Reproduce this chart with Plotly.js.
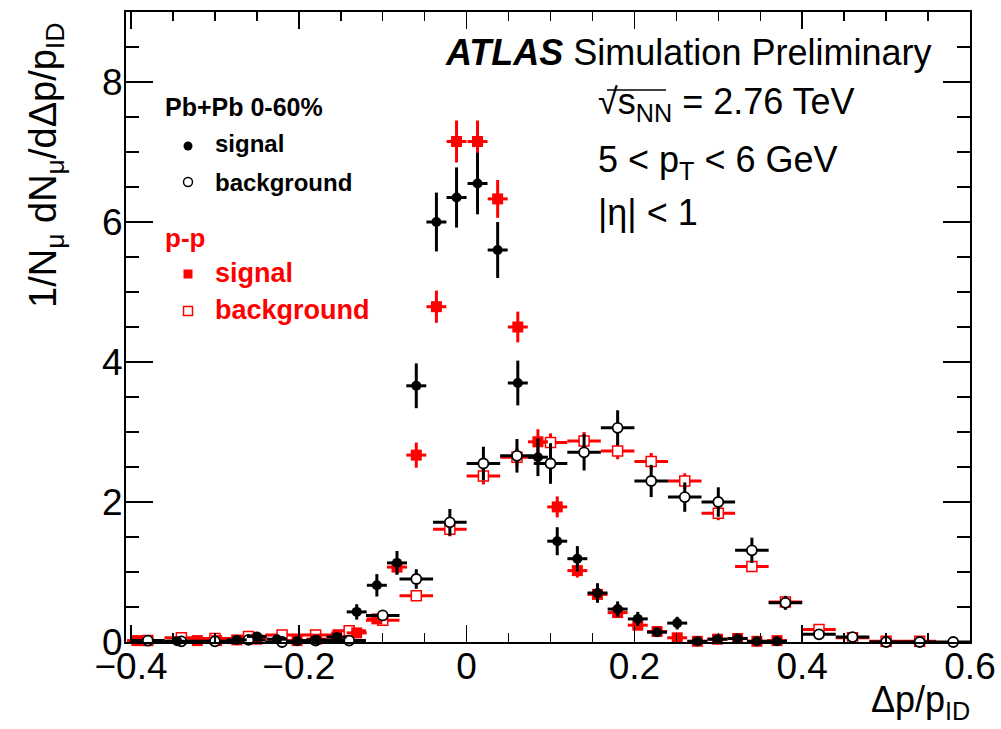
<!DOCTYPE html>
<html>
<head>
<meta charset="utf-8">
<script src="https://cdn.plot.ly/plotly-3.0.1.min.js"></script>
<style>
  html, body { margin: 0; padding: 0; background: #fff; }
  #chart { width: 1001px; height: 729px; }
</style>
</head>
<body>
<div id="chart"></div>
<script>
// Bin centres of the narrow (signal) histograms, delta p / p_ID
const sigX = [-0.393, -0.369, -0.345, -0.321, -0.298, -0.274, -0.250, -0.226, -0.202, -0.179,
              -0.155, -0.131, -0.107, -0.083, -0.060, -0.036, -0.012, 0.013, 0.037, 0.061,
              0.085, 0.108, 0.132, 0.156, 0.180, 0.204, 0.227, 0.251, 0.275, 0.299,
              0.323, 0.346, 0.370];
const sigHalfWidth = 0.0119;

// Pb+Pb 0-60% signal
const pbpbSig = [null, null, 0.01, null, null, 0.03, 0.08, 0.04, 0.01, 0.03,
                 0.07, 0.43, 0.81, 1.13, 3.66, 6.00, 6.35, 6.55, 5.60, 3.70,
                 2.64, 1.44, 1.19, 0.70, 0.47, 0.33, 0.14, 0.27, 0.01, 0.04,
                 0.05, 0.01, 0.01];
const pbpbSigErr = [0, 0, 0.02, 0, 0, 0.03, 0.04, 0.03, 0.02, 0.03,
                    0.04, 0.11, 0.16, 0.17, 0.32, 0.42, 0.43, 0.44, 0.40, 0.32,
                    0.27, 0.20, 0.18, 0.14, 0.11, 0.10, 0.06, 0.09, 0.02, 0.03,
                    0.03, 0.02, 0.02];

// p-p signal
const ppSig = [0.02, null, null, 0.02, 0.02, 0.03, 0.04, null, 0.02, 0.04,
               0.07, 0.13, 0.33, 1.07, 2.67, 4.79, 7.15, 7.15, 6.33, 4.50,
               2.86, 1.93, 1.02, 0.68, 0.42, 0.24, 0.15, 0.06, 0.01, 0.04,
               0.05, 0.01, 0.02];
const ppSigErr = [0.02, 0, 0, 0.02, 0.02, 0.02, 0.02, 0, 0.02, 0.02,
                  0.03, 0.04, 0.06, 0.10, 0.18, 0.23, 0.30, 0.30, 0.27, 0.22,
                  0.18, 0.15, 0.10, 0.08, 0.06, 0.05, 0.04, 0.03, 0.02, 0.02,
                  0.02, 0.01, 0.02];

// Bin centres of the wide (background) histograms
const bkgX = [-0.38, -0.34, -0.30, -0.26, -0.22, -0.18, -0.14, -0.10, -0.06, -0.02,
              0.02, 0.06, 0.10, 0.14, 0.18, 0.22, 0.26, 0.30, 0.34, 0.38,
              0.42, 0.46, 0.50, 0.54, 0.58];
const bkgHalfWidth = 0.02;

// Pb+Pb 0-60% background
const pbpbBkg = [0.02, 0.01, 0.01, 0.03, 0.00, 0.02, 0.02, 0.38, 0.90, 1.71,
                 2.55, 2.66, 2.55, 2.71, 3.06, 2.30, 2.07, 2.00, 1.31, 0.56,
                 0.11, 0.07, 0.00, 0.00, 0.00];
const pbpbBkgErr = [0.02, 0.01, 0.01, 0.02, 0.01, 0.02, 0.02, 0.07, 0.14, 0.19,
                    0.24, 0.24, 0.29, 0.26, 0.25, 0.23, 0.21, 0.21, 0.18, 0.10,
                    0.05, 0.04, 0.01, 0.01, 0.01];

// p-p background
const ppBkg = [0.02, 0.06, 0.05, 0.08, 0.10, 0.10, 0.16, 0.31, 0.66, 1.61,
               2.37, 2.64, 2.85, 2.87, 2.73, 2.58, 2.30, 1.84, 1.08, 0.57,
               0.18, 0.06, 0.01, 0.01, null];
const ppBkgErr = [0.01, 0.02, 0.02, 0.02, 0.03, 0.03, 0.03, 0.05, 0.07, 0.10,
                  0.12, 0.13, 0.13, 0.13, 0.12, 0.12, 0.11, 0.10, 0.08, 0.06,
                  0.03, 0.02, 0.01, 0.01, 0];

const xTicks = [-0.4, -0.2, 0, 0.2, 0.4, 0.6];
const yTicks = [0, 2, 4, 6, 8];

const RED = '#ff0000';
const BLACK = '#000000';
const FONT = 'Liberation Sans, Arial, Helvetica, sans-serif';

// plot-area geometry in page pixels
const L = 126, R = 970, T = 12, B = 642;
const W = 1001, H = 729;
const fx = p => (p - L) / (R - L);
const fy = p => (B - p) / (B - T);

function pointTrace(x, y, err, halfW, color, marker) {
  return {
    type: 'scatter', mode: 'markers', x: x, y: y,
    cliponaxis: false, showlegend: false, hoverinfo: 'skip',
    marker: marker,
    error_y: { type: 'data', array: err, visible: true, color: color, thickness: 3, width: 0 },
    error_x: { type: 'constant', value: halfW, visible: true, color: color, thickness: 3, width: 0 }
  };
}

const traces = [
  pointTrace(bkgX, ppBkg, ppBkgErr, bkgHalfWidth, RED,
    { symbol: 'square', size: 10, color: '#ffffff', line: { color: RED, width: 1.5 } }),
  pointTrace(sigX, ppSig, ppSigErr, sigHalfWidth, RED,
    { symbol: 'square', size: 11, color: RED, line: { width: 0 } }),
  pointTrace(bkgX, pbpbBkg, pbpbBkgErr, bkgHalfWidth, BLACK,
    { symbol: 'circle', size: 10, color: '#ffffff', line: { color: BLACK, width: 1.8 } }),
  pointTrace(sigX, pbpbSig, pbpbSigErr, sigHalfWidth, BLACK,
    { symbol: 'circle', size: 10, color: BLACK, line: { width: 0 } })
];

function txt(text, xpx, ypx, size, color, anchor, extra) {
  return Object.assign({
    text: text, xref: 'paper', yref: 'paper', x: fx(xpx), y: fy(ypx),
    xanchor: anchor || 'left', yanchor: 'middle', showarrow: false,
    font: { family: FONT, size: size, color: color || BLACK }
  }, extra || {});
}

const annotations = [
  // legend block
  txt('<b>Pb+Pb 0-60%</b>', 163, 107, 25),
  txt('<b>signal</b>', 213, 143, 24),
  txt('<b>background</b>', 213, 182, 24),
  txt('<b>p-p</b>', 163, 238, 26, RED),
  txt('<b>signal</b>', 213, 273, 27, RED),
  txt('<b>background</b>', 213, 310, 27, RED),
  // experiment label and conditions
  txt('<b><i>ATLAS</i></b> Simulation Preliminary', 443, 53, 36),
  txt('√s<sub>NN</sub> = 2.76 TeV', 596, 104, 36),
  txt('5 < p<sub>T</sub> < 6 GeV', 596, 162, 36),
  txt('|η| < 1', 596, 212, 36),
  // axis titles
  txt('Δp/p<sub>ID</sub>', 972, 702, 36, BLACK, 'right'),
  txt('1/N<sub>μ</sub> dN<sub>μ</sub>/dΔp/p<sub>ID</sub>', 46, 166, 38, BLACK, 'center', { textangle: -90 })
];

function legendMark(type, xpx, ypx, fill, line, size) {
  const h = size / 2;
  return {
    type: type, xref: 'paper', yref: 'paper',
    xsizemode: 'pixel', ysizemode: 'pixel',
    xanchor: fx(xpx), yanchor: fy(ypx),
    x0: -h, x1: h, y0: -h, y1: h,
    fillcolor: fill, line: line
  };
}

const shapes = [
  legendMark('circle', 188, 146, BLACK, { width: 0 }, 9),
  legendMark('circle', 188, 182, '#ffffff', { color: BLACK, width: 1.5 }, 9),
  legendMark('rect', 188, 274, RED, { width: 0 }, 9),
  legendMark('rect', 188, 311, '#ffffff', { color: RED, width: 1.5 }, 9),
  // vinculum of the square root over s_NN
  { type: 'line', xref: 'paper', yref: 'paper', x0: fx(607), x1: fx(666), y0: fy(90), y1: fy(90),
    line: { color: BLACK, width: 1.5 } }
];

const axisCommon = {
  showgrid: false, zeroline: false, showline: true, linecolor: BLACK, linewidth: 2,
  mirror: 'allticks', ticks: 'inside', tickcolor: BLACK, tickwidth: 1.5,
  tickfont: { family: FONT, size: 37, color: BLACK }
};

const layout = {
  width: W, height: H,
  margin: { l: L, r: W - R, t: T, b: H - B, pad: 0 },
  paper_bgcolor: '#ffffff', plot_bgcolor: '#ffffff',
  showlegend: false,
  xaxis: Object.assign({}, axisCommon, {
    range: [-0.406, 0.6], tickmode: 'array', tickvals: xTicks,
    ticktext: xTicks.map(v => v === 0 ? '0' : (v < 0 ? '\u2212' : '') + Math.abs(v).toFixed(1)),
    ticklen: 17, ticklabelstandoff: -9,
    minor: { dtick: 0.05, ticklen: 9, ticks: 'inside', tickcolor: BLACK, tickwidth: 1.5, showgrid: false }
  }),
  yaxis: Object.assign({}, axisCommon, {
    range: [0, 9], tickmode: 'array', tickvals: yTicks, ticktext: yTicks.map(String),
    ticklen: 27, ticklabelstandoff: -6,
    minor: { dtick: 0.5, ticklen: 13, ticks: 'inside', tickcolor: BLACK, tickwidth: 1.5, showgrid: false }
  }),
  annotations: annotations,
  shapes: shapes
};

Plotly.newPlot('chart', traces, layout, { staticPlot: true, displayModeBar: false });
</script>
</body>
</html>
